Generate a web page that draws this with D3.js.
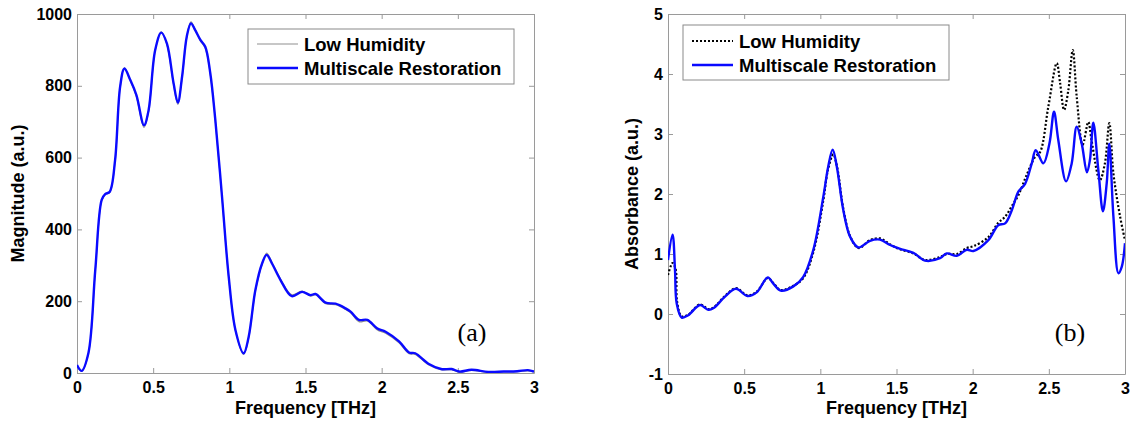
<!DOCTYPE html>
<html>
<head>
<meta charset="utf-8">
<script src="https://cdn.jsdelivr.net/npm/d3@7"></script>
<style>
  html, body { margin: 0; padding: 0; background: #fff; }
  svg { display: block; }
</style>
</head>
<body>
<svg id="chart" width="1134" height="425"></svg>
<script>
// ---------- Data ----------
const freqTicks = [0, 0.5, 1, 1.5, 2, 2.5, 3];
const magTicks = [0, 200, 400, 600, 800, 1000];
const absTicks = [-1, 0, 1, 2, 3, 4, 5];

// Panel (a): magnitude spectrum
const magFreq = [0, 0.03, 0.075, 0.12, 0.162, 0.185, 0.215, 0.25, 0.283, 0.311, 0.35, 0.39, 0.44, 0.47, 0.513, 0.553, 0.59, 0.634, 0.662, 0.69, 0.721, 0.748, 0.776, 0.81, 0.842, 0.875, 0.908, 0.952, 0.996, 1.04, 1.094, 1.127, 1.171, 1.215, 1.245, 1.28, 1.336, 1.41, 1.478, 1.533, 1.566, 1.632, 1.697, 1.763, 1.796, 1.851, 1.906, 1.972, 2.026, 2.114, 2.18, 2.22, 2.31, 2.39, 2.46, 2.51, 2.59, 2.70, 2.80, 2.89, 2.96, 3.0];
const magRestored = [22, 6, 56, 287, 482, 498, 505, 593, 797, 848, 816, 774, 690, 732, 899, 948, 918, 807, 753, 826, 938, 974, 955, 928, 909, 835, 705, 491, 268, 120, 55, 101, 231, 305, 329, 305, 259, 214, 226, 217, 220, 196, 193, 180, 171, 148, 148, 124, 115, 88, 57, 55, 25, 11, 11, 4, 9, 3, 4, 5, 8, 4];
const magLow = [20, 5, 54, 285, 480, 497, 503, 590, 795, 850, 814, 770, 684, 728, 897, 950, 915, 804, 748, 824, 936, 978, 957, 925, 905, 832, 703, 488, 266, 118, 52, 98, 228, 303, 334, 308, 262, 218, 228, 214, 218, 193, 190, 177, 168, 143, 145, 120, 111, 84, 54, 52, 22, 9, 9, 2, 7, 2, 3, 4, 6, 3];

// Panel (b): absorbance spectrum
const absFreq = [0, 0.03, 0.046, 0.057, 0.09, 0.133, 0.21, 0.265, 0.30, 0.374, 0.446, 0.521, 0.582, 0.655, 0.69, 0.74, 0.823, 0.888, 0.954, 1.02, 1.052, 1.081, 1.108, 1.151, 1.195, 1.25, 1.326, 1.392, 1.458, 1.52, 1.611, 1.687, 1.786, 1.83, 1.896, 1.961, 2.005, 2.103, 2.168, 2.213, 2.257, 2.30, 2.344, 2.388, 2.414, 2.464, 2.504, 2.534, 2.562, 2.613, 2.65, 2.683, 2.716, 2.75, 2.77, 2.792, 2.825, 2.855, 2.88, 2.897, 2.924, 2.957, 2.979, 3.0];
const absRestored = [0.9, 1.32, 0.73, 0.18, -0.06, -0.02, 0.15, 0.07, 0.1, 0.29, 0.42, 0.30, 0.36, 0.61, 0.51, 0.39, 0.46, 0.62, 1.07, 1.96, 2.46, 2.74, 2.46, 1.73, 1.29, 1.11, 1.22, 1.24, 1.15, 1.09, 1.02, 0.89, 0.93, 1.01, 0.97, 1.07, 1.05, 1.23, 1.48, 1.51, 1.73, 2.04, 2.17, 2.51, 2.73, 2.51, 2.84, 3.37, 2.9, 2.21, 2.51, 3.12, 2.84, 2.36, 2.57, 3.19, 2.4, 1.71, 2.18, 2.84, 1.62, 0.68, 0.79, 1.18];
const absLowFreq = [0, 0.03, 0.05, 0.06, 0.09, 0.133, 0.21, 0.265, 0.30, 0.374, 0.446, 0.521, 0.582, 0.655, 0.69, 0.74, 0.823, 0.888, 0.954, 1.02, 1.05, 1.085, 1.11, 1.151, 1.195, 1.25, 1.326, 1.392, 1.458, 1.52, 1.611, 1.687, 1.786, 1.83, 1.896, 1.961, 2.005, 2.103, 2.168, 2.213, 2.257, 2.30, 2.35, 2.41, 2.443, 2.497, 2.552, 2.574, 2.6, 2.628, 2.657, 2.683, 2.722, 2.759, 2.78, 2.835, 2.868, 2.897, 2.924, 2.968, 3.0];
const absLow = [0.65, 0.85, 0.75, 0.2, -0.04, -0.01, 0.16, 0.08, 0.11, 0.3, 0.43, 0.31, 0.37, 0.6, 0.52, 0.4, 0.47, 0.6, 1.03, 1.9, 2.4, 2.66, 2.45, 1.75, 1.3, 1.1, 1.23, 1.26, 1.16, 1.08, 1.01, 0.9, 0.95, 1.0, 1.0, 1.1, 1.13, 1.28, 1.52, 1.62, 1.8, 1.98, 2.29, 2.62, 2.7, 3.46, 4.18, 3.85, 3.4, 3.73, 4.4, 3.62, 2.82, 3.2, 2.9, 2.23, 2.51, 3.18, 2.34, 1.62, 1.23];

const legendLabels = ["Low Humidity", "Multiscale Restoration"];

// ---------- Drawing ----------
const svg = d3.select("#chart");
const AXIS = "#9a9a9a";
const BLUE = "#0a0aff";
const SANS = "Arial, 'Liberation Sans', sans-serif";
const SERIF = "'Liberation Serif', 'Times New Roman', serif";

function panel(opts) {
  const { left, right, top, bottom, yDomain, yTicks, yLabel, yLabelX, tag, tagX, series, legend } = opts;
  const x = d3.scaleLinear().domain([0, 3]).range([left, right]);
  const y = d3.scaleLinear().domain(yDomain).range([bottom, top]);
  const g = svg.append("g");

  const clipId = "clip" + tag.replace(/\W/g, "");
  g.append("clipPath").attr("id", clipId).append("rect")
    .attr("x", left).attr("y", top).attr("width", right - left).attr("height", bottom - top);

  const fmt = d => String(d);
  const styleAxis = sel => {
    sel.select(".domain").attr("stroke", AXIS).attr("stroke-width", 1).attr("fill", "none");
    sel.selectAll(".tick line").attr("stroke", AXIS);
    sel.selectAll(".tick text").attr("fill", "#000")
      .style("font-weight", "bold").style("font-size", "16px").style("font-family", SANS);
  };
  g.append("g").attr("transform", `translate(0,${bottom})`)
    .call(d3.axisBottom(x).tickValues(freqTicks).tickFormat(fmt).tickSizeInner(-5).tickSizeOuter(0).tickPadding(9))
    .call(styleAxis);
  g.append("g").attr("transform", `translate(0,${top})`)
    .call(d3.axisTop(x).tickValues(freqTicks).tickFormat("").tickSizeInner(-5).tickSizeOuter(0))
    .call(styleAxis);
  g.append("g").attr("transform", `translate(${left},0)`)
    .call(d3.axisLeft(y).tickValues(yTicks).tickFormat(fmt).tickSizeInner(-5).tickSizeOuter(0).tickPadding(5))
    .call(styleAxis);
  g.append("g").attr("transform", `translate(${right},0)`)
    .call(d3.axisRight(y).tickValues(yTicks).tickFormat("").tickSizeInner(-5).tickSizeOuter(0))
    .call(styleAxis);

  const plot = g.append("g").attr("clip-path", `url(#${clipId})`);
  series.forEach(s => {
    const pts = s.xs.map((f, i) => [f, s.ys[i]]);
    const line = d3.line().x(d => x(d[0])).y(d => y(d[1])).curve(d3.curveCatmullRom.alpha(0.5));
    plot.append("path").datum(pts)
      .attr("d", line)
      .attr("fill", "none")
      .attr("stroke", s.color)
      .attr("stroke-width", s.width)
      .attr("stroke-dasharray", s.dash || null)
      .attr("stroke-linejoin", "round");
  });

  g.append("text")
    .attr("x", (left + right) / 2).attr("y", 414)
    .attr("text-anchor", "middle")
    .style("font-family", SANS).style("font-weight", "bold").style("font-size", "18px")
    .text("Frequency [THz]");
  g.append("text")
    .attr("transform", `translate(${yLabelX},${(top + bottom) / 2}) rotate(-90)`)
    .attr("text-anchor", "middle")
    .style("font-family", SANS).style("font-weight", "bold").style("font-size", "18px")
    .text(yLabel);

  g.append("text")
    .attr("x", tagX).attr("y", 341)
    .attr("text-anchor", "middle")
    .style("font-family", SERIF).style("font-size", "26px")
    .text(tag);

  const L = legend;
  g.append("rect").attr("x", L.x).attr("y", L.y).attr("width", L.w).attr("height", L.h)
    .attr("fill", "#fff").attr("stroke", "#8a8a8a").attr("stroke-width", 1);
  series.forEach((s, i) => {
    const ly = L.lineY[i];
    g.append("line").attr("x1", L.lx1).attr("x2", L.lx2).attr("y1", ly).attr("y2", ly)
      .attr("stroke", s.color).attr("stroke-width", s.width)
      .attr("stroke-dasharray", s.dash || null);
    g.append("text").attr("x", L.tx).attr("y", ly + 6.5)
      .style("font-family", SANS).style("font-weight", "bold").style("font-size", "18.5px")
      .text(legendLabels[i]);
  });
}

panel({
  left: 77, right: 534, top: 14, bottom: 373,
  yDomain: [0, 1000], yTicks: magTicks, yLabel: "Magnitude (a.u.)", yLabelX: 24,
  tag: "(a)", tagX: 472,
  series: [
    { xs: magFreq, ys: magLow, color: "#8f8f8f", width: 1.2 },
    { xs: magFreq, ys: magRestored, color: BLUE, width: 2.4 }
  ],
  legend: { x: 248, y: 29, w: 266, h: 55, lineY: [44, 68], lx1: 257, lx2: 298, tx: 304 }
});

panel({
  left: 668, right: 1125, top: 14, bottom: 374,
  yDomain: [-1, 5], yTicks: absTicks, yLabel: "Absorbance (a.u.)", yLabelX: 638,
  tag: "(b)", tagX: 1070,
  series: [
    { xs: absLowFreq, ys: absLow, color: "#000", width: 2.2, dash: "2,2" },
    { xs: absFreq, ys: absRestored, color: BLUE, width: 2.4 }
  ],
  legend: { x: 683, y: 25, w: 266, h: 55, lineY: [41, 65], lx1: 692, lx2: 733, tx: 739 }
});
</script>
</body>
</html>
